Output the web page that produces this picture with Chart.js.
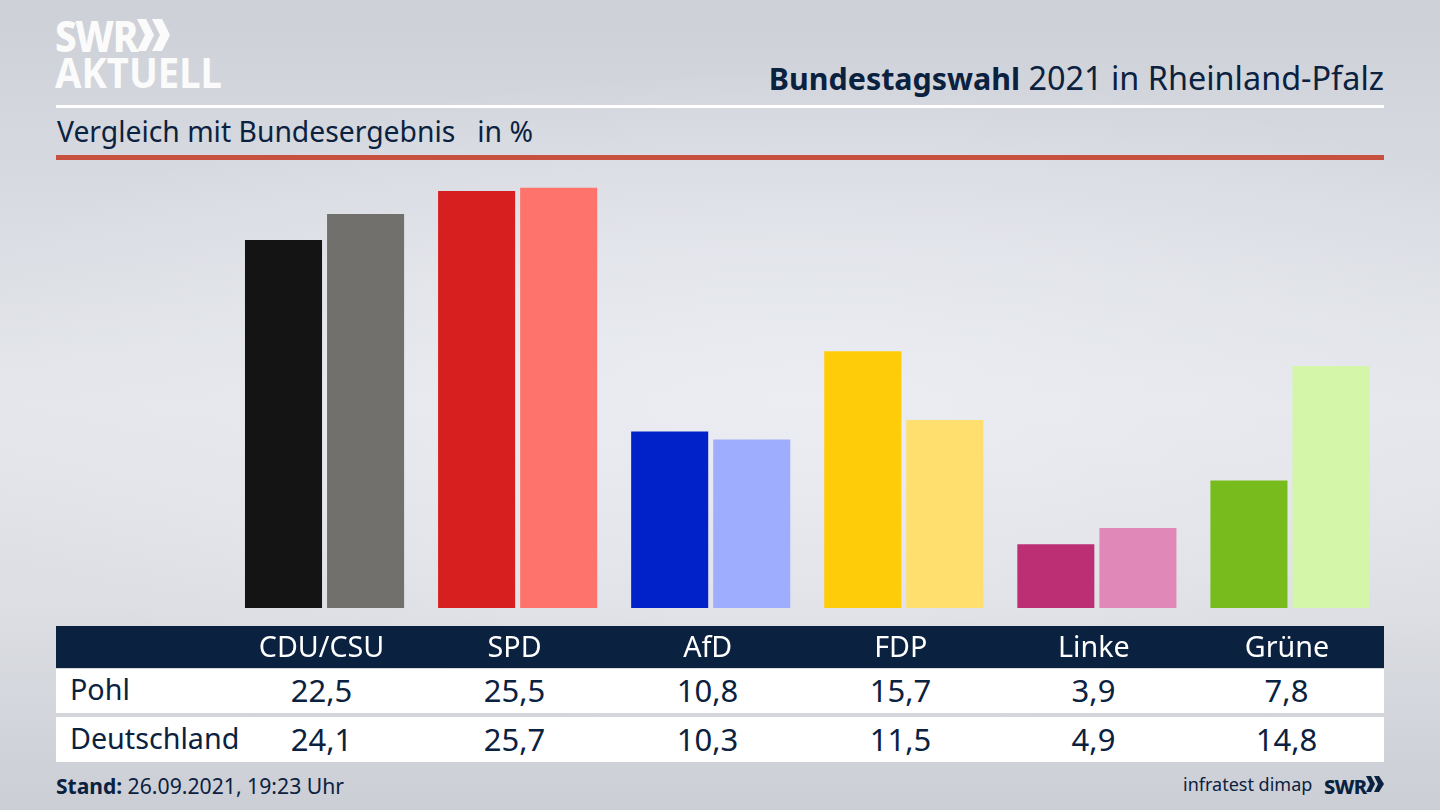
<!DOCTYPE html>
<html lang="de"><head><meta charset="utf-8">
<script src="https://cdn.jsdelivr.net/npm/chart.js@4"></script>
<style>
html,body{margin:0;padding:0;width:1440px;height:810px;overflow:hidden}
body{position:relative;font-family:"Noto Sans",sans-serif;color:#0b2140;
background:radial-gradient(ellipse 900px 330px at 800px 400px,rgba(235,237,243,.9),rgba(235,237,243,0)),linear-gradient(180deg,#cdd1d7 0%,#d6d9df 20%,#e4e6eb 50%,#dcdee3 75%,#cbced5 100%)}
.a{position:absolute;white-space:nowrap;line-height:1}
canvas{position:absolute;left:0;top:0}
.c{transform:translateX(-50%)}
</style></head><body>
<div class="a" style="left:56px;top:626px;width:1328px;height:42px;background:#0b2140"></div>
<div class="a" style="left:56px;top:669px;width:1328px;height:44px;background:#fff"></div>
<div class="a" style="left:56px;top:717px;width:1328px;height:45px;background:#fff"></div>
<div class="a" style="left:56px;top:105px;width:1328px;height:3px;background:#fff"></div>
<div class="a" style="left:56px;top:155px;width:1328px;height:5px;background:#c8503f"></div>

<div class="a" style="left:55px;top:7px;font:800 42px 'Noto Sans';color:#fbfbfb;letter-spacing:-1.5px;transform:scaleX(.92);transform-origin:left">SWR</div>
<svg class="a" style="left:137px;top:19px" width="33" height="32"><path d="M0 0h9l8 16-8 16H0l8-16zM15 0h10l8 16-8 16H15l8-16z" fill="#fbfbfb"/></svg>
<div class="a" style="left:55px;top:43px;font:700 42px 'Noto Sans';color:#fbfbfb;transform:scaleX(.91);transform-origin:left">AKTUELL</div>

<div class="a" style="right:56px;top:61px;font-size:32.4px"><b style="font-size:30.4px">Bundestagswahl</b> 2021 in Rheinland-Pfalz</div>
<div class="a" style="left:57px;top:117px;font-size:28.3px">Vergleich mit Bundesergebnis &nbsp; in %</div>
<div class="a" style="left:56px;top:775px;font-size:21.2px"><b style="font-size:21px">Stand:</b> 26.09.2021, 19:23 Uhr</div>
<div class="a" style="left:1183px;top:775px;font-size:18px">infratest dimap</div>
<div class="a" style="left:1324px;top:773px;font:800 20px 'Noto Sans';letter-spacing:-.8px">SWR</div>
<svg class="a" style="left:1366px;top:776px" width="18" height="16"><path d="M0 0h5l4 8-4 8H0l4-8zM8 0h5l5 8-5 8H8l4-8z" fill="#0b2140"/></svg>
<div id="rows"></div>
<canvas id="c" width="1440" height="810" style="width:1440px;height:810px"></canvas>
<script>
const categories=["CDU/CSU","SPD","AfD","FDP","Linke","Grüne"];
const pohl=[22.5,25.5,10.8,15.7,3.9,7.8];
const deutschland=[24.1,25.7,10.3,11.5,4.9,14.8];
const pohlColors=["#141414","#d81f1f","#0022c8","#ffcc0a","#bc2f75","#78bb1c"];
const deutschlandColors=["#71706d","#ff736d","#9fadff","#ffdf6e","#e088b7","#d3f6a8"];
const rowLabels=["Pohl","Deutschland"];

const fmt=v=>v.toFixed(1).replace(".",",");
const rows=document.getElementById("rows");
function put(txt,css,cls){const d=document.createElement("div");d.className="a "+(cls||"");d.style.cssText=css;d.textContent=txt;rows.appendChild(d);}
[[pohl,rowLabels[0],675],[deutschland,rowLabels[1],724]].forEach(([vals,lab,top])=>{
  put(lab,`left:70px;top:${top}px;font-size:28.7px`);
  vals.forEach((v,i)=>put(fmt(v),`left:${321.5+193*i}px;top:${top}px;font-size:31px`,"c"));
});
new Chart(document.getElementById("c"),{
  type:"bar",
  data:{labels:categories,datasets:[
    {label:rowLabels[0],data:pohl,backgroundColor:pohlColors},
    {label:rowLabels[1],data:deutschland,backgroundColor:deutschlandColors}
  ]},
  options:{
    responsive:false,animation:false,
    categoryPercentage:.85,barPercentage:.939,
    layout:{padding:{left:228,right:53.5,top:160,bottom:0}},
    plugins:{legend:{display:false},tooltip:{enabled:false}},
    scales:{
      x:{grid:{display:false},border:{display:false},
         afterFit:s=>{s.height=202},
         ticks:{color:"#fff",font:{family:"Noto Sans",size:28.7},padding:16,labelOffset:-3,maxRotation:0,autoSkip:false}},
      y:{display:false,min:0,max:27.4}
    }
  }
});
</script></body></html>
